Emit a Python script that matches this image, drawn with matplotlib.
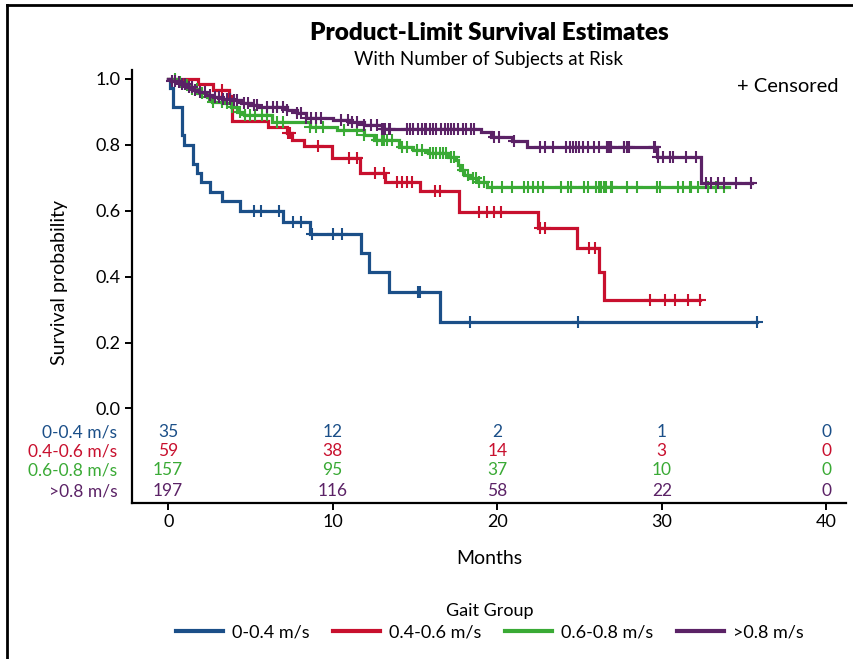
import numpy as np
import matplotlib
matplotlib.use("Agg")
from matplotlib import pyplot as plt
from matplotlib.lines import Line2D

plt.rcParams['font.family'] = ['Lato', 'DejaVu Sans']

groups = ['0-0.4 m/s', '0.4-0.6 m/s', '0.6-0.8 m/s', '>0.8 m/s']
colors = ['#1b4f88', '#c8102e', '#3aaa35', '#5b2266']

# Kaplan-Meier steps: event times (months) and survival after each
blue_t = [0.1, 0.28, 0.83, 0.99, 1.5, 1.74, 1.99, 2.55, 3.3, 4.38, 7.0, 8.59, 11.71, 12.18, 13.45, 16.53]
blue_s = [0.971, 0.914, 0.829, 0.8, 0.743, 0.714, 0.686, 0.657, 0.629, 0.6, 0.567, 0.529, 0.472, 0.413, 0.354, 0.263]
blue_end = 35.8
blue_cens = [5.23, 5.65, 6.75, 7.57, 8.07, 8.73, 10.0, 10.58, 15.2, 15.3, 18.34, 24.9, 35.8]

red_t = [1.84, 2.75, 3.72, 3.86, 6.04, 7.2, 7.5, 8.23, 9.95, 11.67, 13.2, 15.28, 17.65, 22.5, 24.84, 26.16, 26.5]
red_s = [0.983, 0.966, 0.949, 0.873, 0.855, 0.835, 0.814, 0.796, 0.759, 0.713, 0.688, 0.66, 0.597, 0.548, 0.487, 0.413, 0.329]
red_end = 32.3
red_cens = [3.26, 7.3, 7.4, 9.13, 10.96, 11.47, 12.6, 13.1, 13.9, 14.2, 14.5, 14.8, 16.2, 16.5,
            18.9, 19.4, 19.8, 20.2, 22.6, 22.9, 25.55, 25.96, 29.3, 30.2, 30.8, 31.6, 32.3]

green_t = [0.5, 0.9, 1.3, 1.8, 2.35, 2.65, 3.3, 3.8, 4.2, 4.6, 6.3, 8.6, 10.25, 11.9, 12.5,
           14.0, 14.9, 15.8, 17.0, 17.5, 17.6, 17.75, 18.0, 18.36, 18.86, 19.37]
green_s = [0.99, 0.98, 0.97, 0.956, 0.946, 0.93, 0.926, 0.915, 0.9, 0.89, 0.87, 0.855, 0.845, 0.829, 0.814,
           0.792, 0.784, 0.774, 0.764, 0.754, 0.74, 0.723, 0.708, 0.698, 0.688, 0.673]
green_end = 34.06
green_cens = [0.43, 0.73, 1.14, 1.44, 1.74, 2.05, 2.45, 2.75, 3.26, 3.57, 3.87, 4.38, 4.68, 4.98, 5.29, 5.7,
              6.0, 6.6, 7.0, 8.6, 9.0, 9.4, 10.7, 11.5, 11.9, 12.7, 13.1, 13.0, 13.3, 13.6, 14.2, 14.5,
              15.1, 15.4, 15.9, 16.1, 16.3, 16.5, 16.7, 16.9, 17.2, 17.4, 17.9, 18.2, 18.5, 18.7, 18.9, 19.2,
              19.7, 20.3, 20.9, 21.6, 21.9, 22.2, 22.5, 22.8, 23.9, 24.3, 24.5, 25.3, 25.5, 26.0, 26.2,
              26.5, 26.9, 27.9, 26.3, 26.6, 27.0, 28.5, 29.7, 29.9, 31.0, 31.3, 31.7, 31.8, 32.2, 32.8, 33.3, 33.8]

purple_t = [0.2, 0.5, 0.8, 1.1, 1.5, 1.9, 2.3, 2.7, 3.3, 3.8, 4.4, 5.0, 5.4, 7.2, 7.8, 8.4, 10.0, 11.0,
            11.9, 13.0, 19.0, 19.6, 20.9, 21.8, 29.7, 32.4]
purple_s = [0.995, 0.99, 0.985, 0.975, 0.965, 0.96, 0.952, 0.946, 0.94, 0.935, 0.928, 0.92, 0.915, 0.905,
            0.895, 0.88, 0.875, 0.868, 0.86, 0.848, 0.838, 0.824, 0.812, 0.794, 0.762, 0.685]
purple_end = 35.5
purple_cens = [0.22, 0.43, 0.63, 0.83, 1.03, 1.24, 1.44, 1.64, 1.95, 2.25, 2.55, 2.86, 3.06, 3.36, 3.57,
               3.77, 3.97, 4.18, 4.58, 4.88, 5.19, 5.39, 6.0, 6.4, 6.6, 7.0, 7.2, 7.8, 8.1, 8.4, 8.7,
               9.0, 9.3, 10.5, 10.9, 11.2, 11.5, 11.9, 12.3, 12.7, 13.1, 13.4,
               13.0, 13.2, 13.5, 14.5, 14.7, 14.9, 15.2, 15.4, 15.6, 15.7, 15.9, 16.1, 16.3, 16.6, 16.8,
               17.0, 17.2, 17.4, 17.6, 17.9, 18.1, 18.4, 18.6, 19.8, 20.1, 21.0, 22.6, 22.9, 23.4, 24.2,
               24.4, 24.6, 24.8, 25.0, 25.2, 25.5, 25.9, 26.2, 26.7, 26.9, 27.7, 28.0,
               26.7, 26.8, 27.7, 27.9, 29.5, 29.6, 29.8, 30.1, 30.5, 30.7, 31.5, 32.1, 32.7, 33.0,
               33.4, 33.8, 34.5, 35.4]

risk_times = [0, 10, 20, 30, 40]
risk_blue = [35, 12, 2, 1, 0]
risk_red = [59, 38, 14, 3, 0]
risk_green = [157, 95, 37, 10, 0]
risk_purple = [197, 116, 58, 22, 0]

curves = [(blue_t, blue_s, blue_end, blue_cens),
          (red_t, red_s, red_end, red_cens),
          (green_t, green_s, green_end, green_cens),
          (purple_t, purple_s, purple_end, purple_cens)]
risks = [risk_blue, risk_red, risk_green, risk_purple]

fig = plt.figure(figsize=(8.54, 6.59), dpi=100)
ax = fig.add_axes([132 / 854, 1 - 503 / 659, 714 / 854, 433 / 659])

handles = []
for (t, s, end, cens), col, name in zip(curves, colors, groups):
    tt = np.concatenate([[0], t, [end]])
    ss = np.concatenate([[1.0], s, [s[-1]]])
    h, = ax.step(tt, ss, where='post', color=col, lw=2.3, label=name, solid_joinstyle='miter')
    handles.append(h)
    c = np.array(cens)
    idx = np.searchsorted(tt, c, side='right') - 1
    ax.plot(c, ss[idx], ls='none', marker='+', ms=8, mew=1.5, color=col)

# number at risk table
row_y = [-0.072, -0.130, -0.187, -0.251]
for r, col, name, yy in zip(risks, colors, groups, row_y):
    for xt, n in zip(risk_times, r):
        ax.text(xt, yy, str(n), color=col, ha='center', va='center', fontsize=12.5)
    ax.text(-3.1, yy, name, color=col, ha='right', va='center', fontsize=12.5)

ax.set_xlim(-2.2, 41.2)
ax.set_ylim(-0.287, 1.027)
ax.spines['top'].set_visible(False)
ax.spines['right'].set_visible(False)
ax.spines['left'].set_linewidth(1.6)
ax.spines['bottom'].set_linewidth(1.6)
ax.set_xticks([0, 10, 20, 30, 40])
ax.set_yticks([0.0, 0.2, 0.4, 0.6, 0.8, 1.0])
ax.set_yticklabels(['0.0', '0.2', '0.4', '0.6', '0.8', '1.0'])
ax.tick_params(labelsize=13, width=1.4, length=5, pad=3)

ax.set_ylabel('Survival probability', fontsize=14)
ax.yaxis.set_label_coords(-0.0896, 0.51)
ax.set_xlabel('Months', fontsize=14)
ax.xaxis.set_label_coords(0.5, -0.108)

ax.text(0.989, 0.963, '+ Censored', transform=ax.transAxes, ha='right', va='center', fontsize=14.5)

fig.text(489 / 854, 1 - 33 / 659, 'Product-Limit Survival Estimates', ha='center', va='center',
         fontsize=17.5, fontweight='heavy')
fig.text(489 / 854, 1 - 59 / 659, 'With Number of Subjects at Risk', ha='center', va='center', fontsize=13.5)

leg = fig.legend(handles=handles, labels=groups, loc='center', bbox_to_anchor=(490 / 854, 0.057),
                 ncol=4, frameon=False, title='Gait Group', fontsize=13, title_fontsize=13,
                 handlelength=2.6, columnspacing=1.3, handletextpad=0.5, labelspacing=0.3)
for ln in leg.get_lines():
    ln.set_linewidth(3)

# outer frame (only the top and left edges are in view)
fig.add_artist(Line2D([7 / 854, 1], [1 - 5 / 659, 1 - 5 / 659], color='black', lw=2))
fig.add_artist(Line2D([7 / 854, 7 / 854], [0, 1 - 5 / 659], color='black', lw=2))

fig.savefig('out.png', dpi=100)
